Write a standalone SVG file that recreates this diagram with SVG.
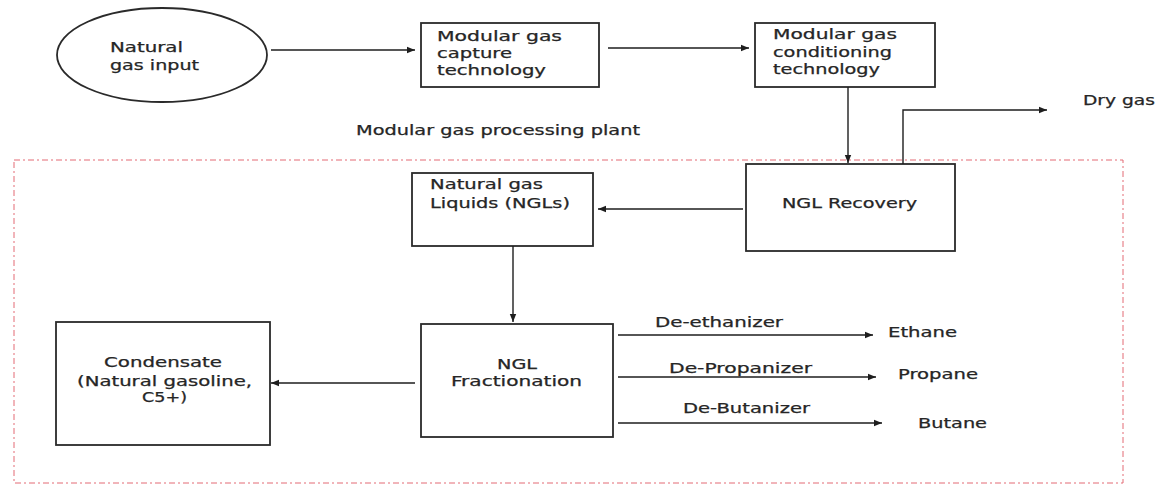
<svg xmlns="http://www.w3.org/2000/svg" width="1158" height="494" viewBox="0 0 1158 494">
<style>
  .box { fill: #ffffff; stroke: #2a2a2a; stroke-width: 1.8; }
  .t { font-family: "DejaVu Sans", Verdana, sans-serif; font-size: 13.5px; fill: #262626; stroke: #262626; stroke-width: 0.25; }
  .c { stroke: #1e1e1e; stroke-width: 1.4; fill: none; }
  .plant { fill: none; stroke: #e36a74; stroke-width: 1; stroke-dasharray: 6 3 2 3; }
</style>
<defs>
  <marker id="arr" viewBox="0 0 10 10" refX="10" refY="5" markerWidth="11" markerHeight="8" markerUnits="userSpaceOnUse" orient="auto">
    <path d="M0,1 L10,5 L0,9 z" fill="#1e1e1e"/>
  </marker>
</defs>
<rect width="1158" height="494" fill="#ffffff"/>

<rect class="plant" x="14" y="160" width="1109" height="323"/>
<text class="t" x="356" y="135" textLength="284" lengthAdjust="spacingAndGlyphs">Modular gas processing plant</text>

<g id="input">
  <ellipse class="box" cx="162" cy="55" rx="105" ry="47"/>
  <text class="t" x="110" y="52" textLength="73" lengthAdjust="spacingAndGlyphs">Natural</text>
  <text class="t" x="110" y="70" textLength="89" lengthAdjust="spacingAndGlyphs">gas input</text>
</g>

<g id="capture">
  <rect class="box" x="421" y="23" width="178" height="64"/>
  <text class="t" x="437" y="41" textLength="125" lengthAdjust="spacingAndGlyphs">Modular gas</text>
  <text class="t" x="437" y="58" textLength="75" lengthAdjust="spacingAndGlyphs">capture</text>
  <text class="t" x="437" y="75" textLength="109" lengthAdjust="spacingAndGlyphs">technology</text>
</g>

<g id="conditioning">
  <rect class="box" x="755" y="23" width="180" height="64"/>
  <text class="t" x="773" y="39" textLength="124" lengthAdjust="spacingAndGlyphs">Modular gas</text>
  <text class="t" x="773" y="57" textLength="119" lengthAdjust="spacingAndGlyphs">conditioning</text>
  <text class="t" x="773" y="74" textLength="107" lengthAdjust="spacingAndGlyphs">technology</text>
</g>

<g id="recovery">
  <rect class="box" x="746" y="164" width="209" height="87"/>
  <text class="t" x="782" y="208" textLength="135" lengthAdjust="spacingAndGlyphs">NGL Recovery</text>
</g>

<g id="drygas">
  <text class="t" x="1083" y="105" textLength="72" lengthAdjust="spacingAndGlyphs">Dry gas</text>
</g>

<g id="ngls">
  <rect class="box" x="412" y="173" width="181" height="73"/>
  <text class="t" x="430" y="189" textLength="113" lengthAdjust="spacingAndGlyphs">Natural gas</text>
  <text class="t" x="430" y="208" textLength="140" lengthAdjust="spacingAndGlyphs">Liquids (NGLs)</text>
</g>

<g id="fractionation">
  <rect class="box" x="421" y="324" width="192" height="113"/>
  <text class="t" x="497" y="369" textLength="40" lengthAdjust="spacingAndGlyphs">NGL</text>
  <text class="t" x="451" y="386" textLength="131" lengthAdjust="spacingAndGlyphs">Fractionation</text>
</g>

<g id="condensate">
  <rect class="box" x="56" y="322" width="214" height="123"/>
  <text class="t" x="104" y="367" textLength="118" lengthAdjust="spacingAndGlyphs">Condensate</text>
  <text class="t" x="77" y="386" textLength="175" lengthAdjust="spacingAndGlyphs">(Natural gasoline,</text>
  <text class="t" x="142" y="402" textLength="45" lengthAdjust="spacingAndGlyphs">C5+)</text>
</g>

<g id="ethane">
  <text class="t" x="888" y="337" textLength="69" lengthAdjust="spacingAndGlyphs">Ethane</text>
</g>
<g id="propane">
  <text class="t" x="898" y="379" textLength="80" lengthAdjust="spacingAndGlyphs">Propane</text>
</g>
<g id="butane">
  <text class="t" x="918" y="428" textLength="69" lengthAdjust="spacingAndGlyphs">Butane</text>
</g>

<g id="connectors">
  <line class="c" x1="271" y1="50" x2="415" y2="50" marker-end="url(#arr)"/>
  <line class="c" x1="608" y1="48" x2="749" y2="48" marker-end="url(#arr)"/>
  <line class="c" x1="848" y1="87" x2="848" y2="163" marker-end="url(#arr)"/>
  <polyline class="c" points="903,164 903,110 1047,110" marker-end="url(#arr)"/>
  <line class="c" x1="743" y1="209" x2="598" y2="209" marker-end="url(#arr)"/>
  <line class="c" x1="513" y1="246" x2="513" y2="322" marker-end="url(#arr)"/>
  <line class="c" x1="415" y1="383" x2="271" y2="383" marker-end="url(#arr)"/>
  <line class="c" x1="618" y1="335" x2="873" y2="335" marker-end="url(#arr)"/>
  <line class="c" x1="618" y1="377" x2="876" y2="377" marker-end="url(#arr)"/>
  <line class="c" x1="618" y1="423" x2="882" y2="423" marker-end="url(#arr)"/>
  <text class="t" x="655" y="327" textLength="128" lengthAdjust="spacingAndGlyphs">De-ethanizer</text>
  <text class="t" x="669" y="373" textLength="143" lengthAdjust="spacingAndGlyphs">De-Propanizer</text>
  <text class="t" x="683" y="413" textLength="127" lengthAdjust="spacingAndGlyphs">De-Butanizer</text>
</g>
</svg>
